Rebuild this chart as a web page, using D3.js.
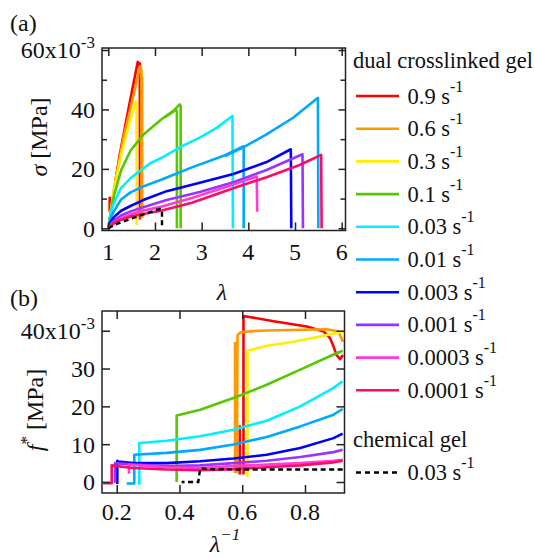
<!DOCTYPE html>
<html><head><meta charset="utf-8">
<script src="https://cdn.jsdelivr.net/npm/d3@7"></script>
</head><body style="margin:0;background:#fff">
<svg id="c" width="535" height="558"></svg>
<script>
// ---- categories / legend ----
const rates = ["0.9","0.6","0.3","0.1","0.03","0.01","0.003","0.001","0.0003","0.0001"];
const colors = ["#ff0000","#ff9900","#ffee00","#55c800","#00f0ff","#00a8ff","#0000ff","#9933ff","#ff3ad8","#ff0a64"];
const chemRate = "0.03";

// ---- panel (a): stress sigma [1e-3 MPa] vs stretch lambda ----
const sig_09 = [[1.03,10.6],[1.03,5.6],null,[1,0],[1.086,8],[1.11,10],[1.136,13.7],[1.164,17],[1.24,24.3],[1.43,40],[1.63,56],[1.665,54.5],[1.675,55.5],[1.678,3]];
const sig_06 = [[1,0],[1.086,8.8],[1.103,11.2],[1.149,15.8],[1.333,31],[1.538,44.6],[1.68,54.5],[1.70,54],[1.71,53],[1.71,3.5],null,[1.725,3.5],[1.725,51]];
const sig_03 = [[1,0],[1.086,9.5],[1.176,17.4],[1.311,27],[1.471,36.3],[1.595,42.7],[1.605,42],[1.61,1.1]];
const sig_01 = [[1,0],[1.087,8.4],[1.122,11],[1.274,19.5],[1.475,26.1],[1.748,31.5],[2.146,36.8],[2.4,39.6],[2.53,41.7],[2.55,41.2],[2.55,0],null,[2.2,37.2],[2.45,39.8],[2.47,39.4],[2.47,0]];
const sig_003 = [[1,0],[1.05,5],[1.12,8.5],[1.27,13.5],[1.5,17.2],[1.89,21.8],[2.15,23.8],[2.6,27.8],[2.96,30.5],[3.32,33.8],[3.66,37.8],[3.67,0]];
const sig_001 = [[1,0],[1.05,3.5],[1.122,5.8],[1.274,9.7],[1.475,12.1],[1.75,14.1],[2.146,16.4],[2.79,20.5],[3.5,24.6],[3.9,27.6],[3.9,0],null,[3.5,24.3],[3.9,27.3],[4.39,31.6],[4.96,37.2],[5.49,43.9],[5.5,0]];
const sig_0003 = [[1,0],[1.05,2.2],[1.122,3.8],[1.274,5.9],[1.475,7.5],[1.75,9.5],[2.25,12.5],[2.96,15.3],[3.68,18.3],[4.39,22.3],[4.91,26.6],[4.92,0]];
const sig_0001 = [[1,0],[1.05,1.3],[1.122,2.6],[1.274,4.3],[1.475,5.7],[1.75,7.1],[2.25,9.5],[2.96,12.2],[3.68,15.5],[4.39,19.6],[5.16,24.9],[5.17,0]];
const sig_00003 = [[1,0],[1.05,0.9],[1.122,1.8],[1.274,3.3],[1.475,4.7],[1.75,6.0],[2.146,7.3],[2.79,10.2],[3.5,13.8],[4.0,16.5],[4.18,17.4],[4.19,5.6]];
const sig_00001 = [[1,0],[1.05,0.8],[1.122,1.7],[1.274,2.9],[1.475,4.0],[1.75,4.8],[2.146,6.0],[2.79,8.6],[3.68,13.5],[4.39,17.2],[5.1,21.3],[5.56,24.7],[5.57,0]];
const sig_chem = [[1,0],[1.2,1.6],[1.5,3.3],[1.8,4.9],[2.1,6.5],[2.15,6.3],[2.15,0]];

// ---- panel (b): reduced stress f* [1e-3 MPa] vs 1/lambda ----
const fs_09 = [[0.921,33.6],[0.912,32.5],[0.9,33.6],[0.891,35.8],[0.88,38.0],[0.859,39.8],[0.806,41.1],[0.7,42.5],[0.604,43.9],[0.604,2.0],null,[0.592,2.0],[0.592,15]];
const fs_06 = [[0.921,37.1],[0.907,39.8],[0.87,40.4],[0.75,40.2],[0.65,40.0],[0.595,39.6],[0.585,38.8],[0.583,2.4],null,[0.577,2.4],[0.577,37]];
const fs_03 = [[0.921,39.8],[0.85,38.5],[0.763,37.1],[0.68,36.0],[0.617,34.7],[0.617,1.4]];
const fs_01 = [[0.92,34.7],[0.891,33.7],[0.785,29.7],[0.678,25.7],[0.572,22.2],[0.466,19.1],[0.391,17.6],[0.391,0]];
const fs_003 = [[0.92,26.6],[0.891,24.9],[0.785,20.0],[0.678,16.2],[0.572,13.8],[0.466,12.1],[0.359,10.9],[0.272,10.3],[0.272,-0.7]];
const fs_001 = [[0.92,19.3],[0.891,17.8],[0.785,14.7],[0.678,11.9],[0.572,9.9],[0.466,8.5],[0.359,7.7],[0.256,7.2],[0.256,-0.4],[0.232,-0.4]];
const fs_0003 = [[0.92,12.8],[0.891,11.6],[0.785,9.0],[0.678,7.2],[0.572,6.2],[0.466,5.5],[0.359,5.0],[0.253,5.0],[0.205,5.4],[0.202,5.6],[0.202,-0.5]];
const fs_0001 = [[0.92,8.5],[0.891,7.9],[0.785,6.6],[0.678,5.6],[0.572,5.0],[0.466,4.4],[0.359,4.2],[0.253,4.6],[0.195,5.0],[0.195,-0.2]];
const fs_00003 = [[0.92,5.9],[0.891,5.6],[0.785,5.0],[0.678,4.6],[0.572,4.2],[0.466,3.7],[0.359,3.9],[0.239,4.6],[0.239,2.2]];
const fs_00001 = [[0.92,5.6],[0.891,5.2],[0.785,4.4],[0.678,3.9],[0.572,3.4],[0.466,3.1],[0.359,3.3],[0.253,3.7],[0.2,4.2],[0.184,4.4],[0.184,-0.3],[0.157,-0.3]];
const fs_chem = [[0.92,3.3],[0.8,3.3],[0.7,3.3],[0.6,3.3],[0.5,3.4],[0.466,3.6],[0.46,0],[0.407,0]];

const sigmaSeries = [sig_09,sig_06,sig_03,sig_01,sig_003,sig_001,sig_0003,sig_0001,sig_00003,sig_00001];
const fstarSeries = [fs_09,fs_06,fs_03,fs_01,fs_003,fs_001,fs_0003,fs_0001,fs_00003,fs_00001];

// ---- ticks ----
const xTicksA = [1,2,3,4,5,6];
const yTicksA = [0,20,40,60];
const yMinorA = [10,30,50];
const xTicksB = [0.2,0.4,0.6,0.8];
const yTicksB = [0,10,20,30,40];

const svg = d3.select("#c");
const ink = "#222";

function serif(sel){
  sel.style("font-family",'"Liberation Serif", "Times New Roman", serif',"important");
  return sel;
}
function T(parent, size){
  return serif(parent.append("text")).attr("font-size",size).attr("fill","#111");
}
function S(parent){ return serif(parent.append("tspan")); }

// frames
const A = {l:102, r:345.5, t:48, b:230.5};
const B = {l:102, r:344.5, t:311, b:493};

const xA = d3.scaleLinear().domain([1,6]).range([108.3,341.7]);
const yA = d3.scaleLinear().domain([0,60]).range([228.3,50]);
const xB = d3.scaleLinear().domain([0.2,0.8]).range([116.7,305]);
const yB = d3.scaleLinear().domain([0,40]).range([482,330.7]);

const defs = svg.append("defs");
defs.append("clipPath").attr("id","clipA").append("rect").attr("x",A.l).attr("y",A.t).attr("width",A.r-A.l).attr("height",A.b-A.t);
defs.append("clipPath").attr("id","clipB").append("rect").attr("x",B.l).attr("y",B.t).attr("width",B.r-B.l).attr("height",B.b-B.t);

function ticksOnly(g){
  g.select(".domain").remove();
  g.selectAll("text").remove();
  g.attr("font-family",null).attr("font-size",null);
  g.selectAll("line").attr("stroke",ink).attr("stroke-width",1.5);
}

// ---- data lines ----
const lineA = d3.line().defined(d=>d!==null).x(d=>xA(d[0])).y(d=>yA(d[1]));
const lineB = d3.line().defined(d=>d!==null).x(d=>xB(d[0])).y(d=>yB(d[1]));

const gA = svg.append("g").attr("clip-path","url(#clipA)");
sigmaSeries.forEach((s,i)=>{
  gA.append("path").attr("d",lineA(s)).attr("fill","none").attr("stroke",colors[i])
    .attr("stroke-width",2.6).attr("stroke-linejoin","round");
});
gA.append("path").attr("d",lineA(sig_chem)).attr("fill","none").attr("stroke","#000")
  .attr("stroke-width",2.4).attr("stroke-dasharray","5,3.5");

const gB = svg.append("g").attr("clip-path","url(#clipB)");
fstarSeries.forEach((s,i)=>{
  gB.append("path").attr("d",lineB(s)).attr("fill","none").attr("stroke",colors[i])
    .attr("stroke-width",2.6).attr("stroke-linejoin","round");
});
gB.append("path").attr("d",lineB(fs_chem)).attr("fill","none").attr("stroke","#000")
  .attr("stroke-width",2.4).attr("stroke-dasharray","5,3.5");

// ---- frames ----
[A,B].forEach(F=>{
  svg.append("rect").attr("x",F.l).attr("y",F.t).attr("width",F.r-F.l).attr("height",F.b-F.t)
    .attr("fill","none").attr("stroke",ink).attr("stroke-width",1.5);
});

// ---- panel (a) axes ----
svg.append("g").attr("transform",`translate(0,${A.b})`)
  .call(d3.axisBottom(xA).tickValues(xTicksA).tickSize(-8)).call(ticksOnly);
svg.append("g").attr("transform",`translate(0,${A.t})`)
  .call(d3.axisTop(xA).tickValues(xTicksA).tickSize(-8)).call(ticksOnly);
svg.append("g").attr("transform",`translate(${A.l},0)`)
  .call(d3.axisLeft(yA).tickValues(yTicksA).tickSize(-7)).call(ticksOnly);
svg.append("g").attr("transform",`translate(${A.l},0)`)
  .call(d3.axisLeft(yA).tickValues(yMinorA).tickSize(-5)).call(ticksOnly);
svg.append("g").attr("transform",`translate(${A.r},0)`)
  .call(d3.axisRight(yA).tickValues(yTicksA).tickSize(-7)).call(ticksOnly);
svg.append("g").attr("transform",`translate(${A.r},0)`)
  .call(d3.axisRight(yA).tickValues(yMinorA).tickSize(-5)).call(ticksOnly);

xTicksA.forEach(v=>{
  T(svg,24).attr("x",xA(v)).attr("y",260).attr("text-anchor","middle").text(d3.format("d")(v));
});
yTicksA.forEach((v,i)=>{
  const t = T(svg,24).attr("x",95).attr("y",yA(v)).attr("dy","0.35em").attr("text-anchor","end");
  if(i===yTicksA.length-1){
    S(t).text(v+"x10");
    S(t).attr("dy",-10).attr("font-size",17).text("-3");
  } else t.text(v);
});

// ---- panel (b) axes ----
svg.append("g").attr("transform",`translate(0,${B.b})`)
  .call(d3.axisBottom(xB).tickValues(xTicksB).tickSize(-8)).call(ticksOnly);
svg.append("g").attr("transform",`translate(0,${B.t})`)
  .call(d3.axisTop(xB).tickValues(xTicksB).tickSize(-8)).call(ticksOnly);
svg.append("g").attr("transform",`translate(${B.l},0)`)
  .call(d3.axisLeft(yB).tickValues(yTicksB).tickSize(-8)).call(ticksOnly);
svg.append("g").attr("transform",`translate(${B.r},0)`)
  .call(d3.axisRight(yB).tickValues(yTicksB).tickSize(-8)).call(ticksOnly);

xTicksB.forEach(v=>{
  T(svg,24).attr("x",xB(v)).attr("y",520).attr("text-anchor","middle").text(d3.format(".1f")(v));
});
yTicksB.forEach((v,i)=>{
  const t = T(svg,24).attr("x",95).attr("y",yB(v)).attr("dy","0.35em").attr("text-anchor","end");
  if(i===yTicksB.length-1){
    S(t).text(v+"x10");
    S(t).attr("dy",-10).attr("font-size",17).text("-3");
  } else t.text(v);
});

// ---- titles ----
T(svg,24).attr("x",10).attr("y",31).text("(a)");
T(svg,24).attr("x",10).attr("y",306).text("(b)");

T(svg,24).attr("x",222).attr("y",300).attr("text-anchor","middle").attr("font-style","italic").text("λ");

const xl = T(svg,24).attr("x",225).attr("y",552).attr("text-anchor","middle");
S(xl).attr("font-style","italic").text("λ");
S(xl).attr("font-style","italic").attr("font-size",17).attr("dy",-12).text("−1");

const ylA = T(svg,24).attr("transform","translate(47,137) rotate(-90)").attr("text-anchor","middle");
S(ylA).attr("font-style","italic").text("σ");
S(ylA).text(" [MPa]");

const ylB = T(svg,24).attr("transform","translate(43,410) rotate(-90)").attr("text-anchor","middle");
S(ylB).attr("font-style","italic").text("f");
S(ylB).attr("font-size",17).attr("dy",-11).text("*");
S(ylB).attr("dy",11).text(" [MPa]");

// ---- legend ----
const LG = svg.append("g");
T(LG,22.5).attr("x",353).attr("y",68).text("dual crosslinked gel");
rates.forEach((r,i)=>{
  const y = 96 + i*32.7;
  LG.append("line").attr("x1",356).attr("x2",399).attr("y1",y).attr("y2",y)
    .attr("stroke",colors[i]).attr("stroke-width",2.6);
  const t = T(LG,22.5).attr("x",407.5).attr("y",y+7.5);
  S(t).text(r+" s");
  S(t).attr("dy",-12).attr("font-size",16).text("-1");
});
T(LG,22.5).attr("x",353).attr("y",447).text("chemical gel");
LG.append("line").attr("x1",356).attr("x2",399).attr("y1",472.5).attr("y2",472.5)
  .attr("stroke","#000").attr("stroke-width",2.4).attr("stroke-dasharray","5,4");
const ct = T(LG,22.5).attr("x",407.5).attr("y",480);
S(ct).text(chemRate+" s");
S(ct).attr("dy",-12).attr("font-size",16).text("-1");
</script>
</body></html>
